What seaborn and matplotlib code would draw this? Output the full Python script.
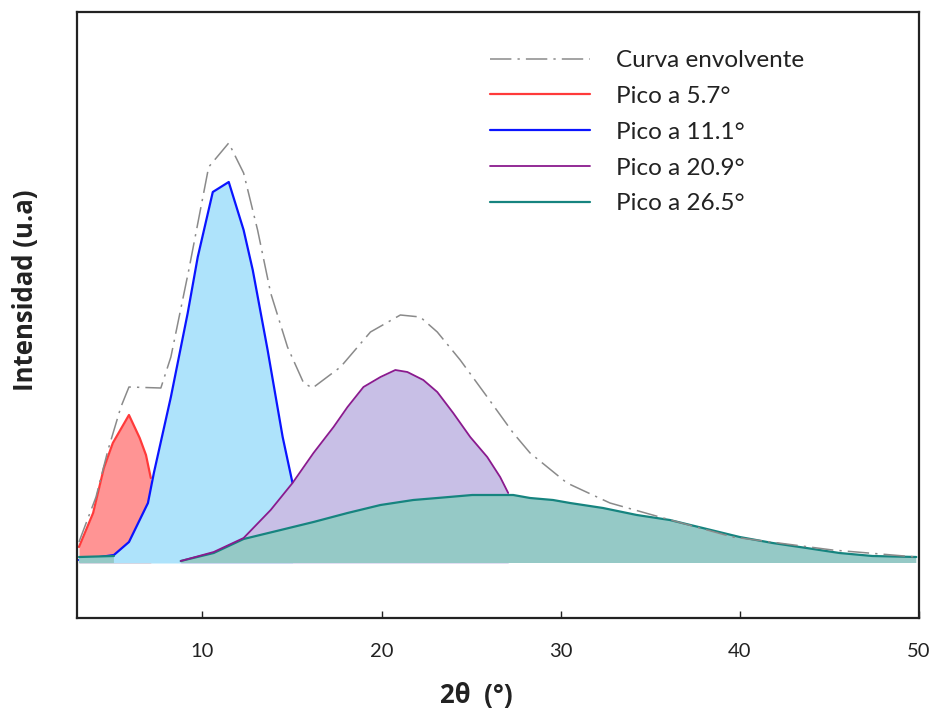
import numpy as np
import pandas as pd
import matplotlib
matplotlib.use("Agg")
import matplotlib.pyplot as plt
import seaborn as sns

# ---- data ----
red_x = [3.11, 3.9, 4.5, 5.0, 5.9, 6.5, 6.85, 7.12]
red_y = [16, 50, 95, 120, 148, 125, 108, 85]

blue_x = [3.11, 5.06, 5.90, 6.96, 7.29, 8.24, 9.18, 9.74, 10.58, 11.47, 12.30, 12.81, 13.64, 14.48, 15.03]
blue_y = [3, 8, 21, 60, 90, 166, 250, 306, 371, 381, 333, 293, 213, 126, 80]

purple_x = [8.79, 10.63, 12.30, 13.81, 15.03, 16.20, 17.32, 18.10, 18.99, 19.94, 20.77,
            21.44, 22.33, 23.11, 24.00, 24.95, 25.90, 26.62, 27.07]
purple_y = [2, 11, 25, 53, 80, 110, 136, 156, 176, 186, 193, 191, 183, 171, 150, 126, 106, 86, 70]

teal_x = [3.11, 5.06, 5.5, 8.79, 10.63, 12.30, 14.37, 16.20, 18.10, 19.94, 21.77, 23.11, 25.06,
          27.35, 28.29, 29.57, 30.52, 32.36, 34.25, 36.09, 37.93, 39.99, 41.83, 43.72, 45.56, 47.40, 49.85]
teal_y = [6, 7, np.nan, 2, 10, 24, 33, 41, 50, 58, 63, 65, 68, 68, 65, 63, 60, 55, 48, 43, 35, 26, 20,
          15, 10, 7, 6]

env_x = [3.11, 4.06, 4.73, 5.45, 5.90, 7.68, 8.24, 9.24, 10.35, 11.47, 12.30, 13.08, 13.81, 14.75,
         15.65, 16.15, 17.71, 19.38, 21.05, 22.16, 23.11, 24.39, 25.90, 27.35, 28.29, 30.35, 32.75,
         35.53, 39.60, 45.17, 49.85]
env_y = [21, 66, 113, 156, 176, 175, 206, 293, 396, 420, 390, 333, 270, 216, 180, 175, 196, 231,
         248, 246, 231, 203, 166, 130, 110, 80, 60, 46, 26, 13, 6]

labels = ["Curva envolvente", "Pico a 5.7°", "Pico a 11.1°", "Pico a 20.9°", "Pico a 26.5°"]
x_ticks = [10, 20, 30, 40, 50]

# ---- styling ----
sns.set_style("white")
plt.rcParams['font.family'] = ['Lato', 'DejaVu Sans']
text_col = "#222222"

fig = plt.figure(figsize=(9.34, 7.15), dpi=100)
ax = fig.add_axes([77 / 934, 1 - 618 / 715, (919 - 77) / 934, (618 - 12) / 715])

# (x, y, line colour, fill colour, label, lw, fill z, line z)
peaks = [
    (red_x, red_y, "#ff3a3a", "#ff9494", labels[1], 1.6, 2, 2.5),
    (blue_x, blue_y, "#0a14ff", "#aee3fb", labels[2], 1.6, 3, 3.5),
    (purple_x, purple_y, "#8a1a8e", "#c8bfe6", labels[3], 1.3, 4, 5.6),
    (teal_x, teal_y, "#16847f", "#95c9c6", labels[4], 1.6, 5, 5.5),
]

for xs, ys, lc, fc, lab, lw, zf, zl in peaks:
    xa = np.asarray(xs, float)
    ya = np.asarray(ys, float)
    ok = ~np.isnan(ya)
    ax.fill_between(xa, 0, ya, where=ok, color=fc, lw=0, zorder=zf, interpolate=False)
    if np.all(ok):
        df = pd.DataFrame({"x": xa, "y": ya})
        sns.lineplot(data=df, x="x", y="y", color=lc, lw=lw, ax=ax, sort=False,
                     estimator=None, zorder=zl, label=lab)
    else:
        ax.plot(xa, ya, color=lc, lw=lw, zorder=zl, label=lab)

env_df = pd.DataFrame({"x": env_x, "y": env_y})
sns.lineplot(data=env_df, x="x", y="y", color="#8a8a8a", lw=1.1, ax=ax, sort=False,
             estimator=None, zorder=10, label=labels[0], linestyle=(0, (14, 4, 1.5, 4)))

ax.set_xlim(3, 50)
ax.set_ylim(-55, 551)
ax.set_xticks(x_ticks)
ax.set_xticklabels([str(t) for t in x_ticks])
ax.set_yticks([])
ax.tick_params(axis="x", direction="in", length=5, width=1, pad=18, labelsize=14.5,
               colors="#222222", bottom=True)
for sp in ax.spines.values():
    sp.set_visible(True)
    sp.set_color("#222222")
    sp.set_linewidth(1.6)

lab_font = ['Open Sans', 'DejaVu Sans']
ax.set_xlabel("2θ  (°)", fontsize=18.5, fontweight="bold", color=text_col, family=lab_font)
ax.xaxis.set_label_coords((476 - 77) / 842, -(695 - 618) / 606)
ax.xaxis.label.set_va("center")
ax.set_ylabel("Intensidad (u.a)", fontsize=18.5, fontweight="bold", color=text_col, family=lab_font)
ax.yaxis.set_label_coords(-(77 - 26) / 842, (618 - 290) / 606)
ax.yaxis.label.set_va("center")

h, l = ax.get_legend_handles_labels()
order = [l.index(t) for t in labels]
leg = ax.legend([h[i] for i in order], [l[i] for i in order], loc="upper left",
                bbox_to_anchor=(490 / 934, 1 - 50 / 715), bbox_transform=fig.transFigure,
                frameon=False, fontsize=17.5, handlelength=4.1, handletextpad=1.1,
                labelspacing=0.61, borderpad=0, borderaxespad=0)
for t in leg.get_texts():
    t.set_color(text_col)

fig.savefig("out.png", dpi=100)
